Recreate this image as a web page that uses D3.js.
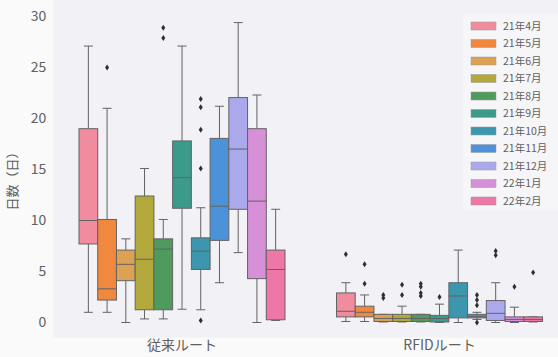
<!DOCTYPE html>
<html><head><meta charset="utf-8">
<script src="https://cdn.jsdelivr.net/npm/d3@7"></script>
<style>
html,body{margin:0;padding:0;background:#fafafa;}
svg{display:block;}
text{font-family:"Noto Sans CJK JP","DejaVu Sans",sans-serif;}
</style></head>
<body><svg id="chart" width="558" height="357"></svg>
<script>
const routes = ["従来ルート", "RFIDルート"];
const months = ["21年4月","21年5月","21年6月","21年7月","21年8月","21年9月","21年10月","21年11月","21年12月","22年1月","22年2月"];
const colors = ["#f08c9e","#f0883e","#dca152","#b3a83c","#4f9b5e","#3c9a8a","#3b96ae","#4b92d8","#aca8ec","#d690d8","#ef77a8"];
const yTicks = [0, 5, 10, 15, 20, 25, 30];

// 従来ルート
const convLow    = [1.0, 1.0, 0.0, 0.35, 0.35, 1.3, 1.25, 3.9, 6.85, 0.0, 0.2];
const convQ1     = [7.7, 2.2, 4.1, 1.25, 1.25, 11.2, 5.2, 8.05, 11.1, 4.3, 0.27];
const convMedian = [10.0, 3.3, 5.7, 6.2, 7.2, 14.2, 7.0, 11.4, 17.0, 11.9, 5.2];
const convQ3     = [19.0, 10.1, 7.1, 12.4, 8.2, 17.8, 8.3, 18.05, 22.05, 19.0, 7.1];
const convHigh   = [27.1, 21.0, 8.2, 15.1, 10.1, 27.1, 11.25, 21.2, 29.4, 22.3, 11.1];
const convOut    = [[], [25.0], [], [], [27.9, 28.9], [], [21.9, 21.1, 18.9, 15.1, 0.2], [], [], [], []];

// RFIDルート
const rfidLow    = [0.1, 0.1, 0.05, 0.05, 0.05, 0.0, 0.0, 0.3, 0.0, 0.0, 0.05];
const rfidQ1     = [0.55, 0.55, 0.1, 0.1, 0.1, 0.05, 0.45, 0.45, 0.2, 0.1, 0.1];
const rfidMedian = [1.1, 1.0, 0.4, 0.4, 0.4, 0.4, 2.6, 0.6, 0.9, 0.3, 0.3];
const rfidQ3     = [2.9, 1.6, 0.8, 0.8, 0.8, 0.7, 3.9, 0.8, 2.15, 0.55, 0.55];
const rfidHigh   = [3.9, 2.7, 0.8, 1.6, 0.8, 1.8, 7.1, 1.0, 3.9, 1.5, 0.55];
const rfidOut    = [[6.7], [5.7, 3.8], [2.4, 2.7], [2.7, 3.7], [2.6, 2.9, 3.5, 3.8], [2.5], [], [2.7, 2.2, 1.7, 0.0], [6.6, 7.0], [3.5], [4.9]];

const groups = [
  {route: routes[0], low: convLow, q1: convQ1, med: convMedian, q3: convQ3, high: convHigh, out: convOut},
  {route: routes[1], low: rfidLow, q1: rfidQ1, med: rfidMedian, q3: rfidQ3, high: rfidHigh, out: rfidOut}
];

const svg = d3.select("#chart");
const panel = {left: 53.25, right: 568.25, top: 7.6, bottom: 337.5};

const x = d3.scaleBand().domain(routes).range([panel.left, panel.right]).padding(0);
const inner = d3.scaleBand().domain(months).range([0, x.bandwidth() * 0.8]).padding(0);
const y = d3.scaleLinear().domain([-1.47, 30.87]).range([panel.bottom, panel.top]);

svg.append("rect").attr("x", panel.left).attr("y", 0)
  .attr("width", panel.right - panel.left).attr("height", panel.bottom)
  .attr("fill", "#f2f1f6");

const textColor = "#606060";
const lineColor = "#636363";
const bw = inner.bandwidth();
const capW = bw * 0.48;

groups.forEach(g => {
  const gx = x(g.route) + x.bandwidth() * 0.1;
  const gg = svg.append("g").attr("transform", `translate(${gx},0)`);
  months.forEach((m, i) => {
    const bx = inner(m);
    const cx = bx + bw / 2;
    const ln = (x1, x2, y1, y2) => gg.append("line").attr("x1", x1).attr("x2", x2).attr("y1", y1).attr("y2", y2)
      .attr("stroke", lineColor).attr("stroke-width", 1);
    ln(cx, cx, y(g.q3[i]), y(g.high[i]));
    ln(cx, cx, y(g.q1[i]), y(g.low[i]));
    ln(cx - capW / 2, cx + capW / 2, y(g.high[i]), y(g.high[i]));
    ln(cx - capW / 2, cx + capW / 2, y(g.low[i]), y(g.low[i]));
    gg.append("rect").attr("x", bx).attr("width", bw)
      .attr("y", y(g.q3[i])).attr("height", Math.max(1, y(g.q1[i]) - y(g.q3[i])))
      .attr("fill", colors[i]).attr("stroke", lineColor).attr("stroke-width", 1);
    ln(bx, bx + bw, y(g.med[i]), y(g.med[i]));
    g.out[i].forEach(v => {
      const py = y(v);
      gg.append("path").attr("d", `M${cx},${py - 3}L${cx + 2},${py}L${cx},${py + 3}L${cx - 2},${py}Z`)
        .attr("fill", "#2f2f2f");
    });
  });
});

// y axis
const yAxis = svg.append("g").attr("transform", `translate(${panel.left},0)`)
  .call(d3.axisLeft(y).tickValues(yTicks).tickSize(0).tickPadding(7));
yAxis.select(".domain").remove();
yAxis.selectAll("text").attr("fill", textColor).attr("font-size", 14).attr("font-family", "DejaVu Sans");

// x axis
const xAxis = svg.append("g").attr("transform", `translate(0,${panel.bottom})`)
  .call(d3.axisBottom(x).tickSize(0).tickPadding(3));
xAxis.select(".domain").remove();
xAxis.selectAll("text").attr("fill", textColor).attr("font-size", 14);

// y title
svg.append("text").attr("transform", `translate(17,178) rotate(-90)`)
  .attr("text-anchor", "middle").attr("fill", textColor).attr("font-size", 13)
  .text("日数（日）");

// legend
const leg = svg.append("g");
leg.append("rect").attr("x", 463).attr("y", 14).attr("width", 98).attr("height", 196)
  .attr("fill", "#f6f6f9");
months.forEach((m, i) => {
  const ly = 26 + i * 17.5;
  leg.append("rect").attr("x", 471).attr("y", ly - 4).attr("width", 25).attr("height", 8)
    .attr("fill", colors[i]).attr("stroke", "#9a9a9a").attr("stroke-width", 0.5);
  leg.append("text").attr("x", 503).attr("y", ly).attr("dy", "0.35em")
    .attr("fill", textColor).attr("font-size", 10.5).text(m);
});
</script>
</body></html>
